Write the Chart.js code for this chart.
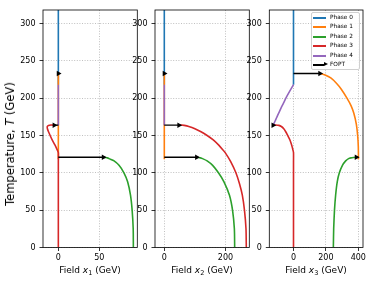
<!DOCTYPE html>
<html>
<head>
<meta charset="utf-8">
<script src="https://cdn.jsdelivr.net/npm/chart.js@4.4.1/dist/chart.umd.min.js"></script>
<style>
  body { margin: 0; background: #fff; font-family: "DejaVu Sans", sans-serif; }
  #fig { position: relative; width: 374px; height: 282px; overflow: hidden; background: #fff; }
  #fig canvas { position: absolute; top: 0; }
  .lbl { position: absolute; font-size: 9px; color: #000; white-space: nowrap; transform: translate(-50%, -50%); }
  .lbl sub { font-size: 6.5px; vertical-align: -2px; line-height: 0; }
  #ylab { font-size: 11.5px; transform: translate(-50%, -50%) rotate(-90deg); }
  #legend { position: absolute; left: 311px; top: 12px; width: 49px; height: 58px; box-sizing: border-box;
            border: 1px solid #d0d0d0; border-radius: 2px; background: rgba(255,255,255,0.85); }
  .row { position: absolute; left: 0; height: 9px; width: 100%; }
  .row .h { position: absolute; left: 1px; top: 4px; width: 13px; height: 1.5px; }
  .row .t { position: absolute; left: 18px; top: 0; font-size: 5.8px; line-height: 9px; color: #000; }
  .row .tri { position: absolute; left: 11.5px; top: 2.2px; width: 0; height: 0;
              border-top: 2.6px solid transparent; border-bottom: 2.6px solid transparent; border-left: 4.5px solid #000; }
</style>
</head>
<body>
<div id="fig">
  <canvas id="c1" style="left:0px" width="140" height="282"></canvas>
  <canvas id="c2" style="left:125px" width="127" height="282"></canvas>
  <canvas id="c3" style="left:240px" width="134" height="282"></canvas>
  <div class="lbl" id="ylab" style="left:10px; top:144px;">Temperature, <i>T</i> (GeV)</div>
  <div class="lbl" style="left:90px; top:270px;">Field <i>x</i><sub>1</sub> (GeV)</div>
  <div class="lbl" style="left:202px; top:270px;">Field <i>x</i><sub>2</sub> (GeV)</div>
  <div class="lbl" style="left:316px; top:270px;">Field <i>x</i><sub>3</sub> (GeV)</div>
  <div id="legend"></div>
</div>
<script>
// axis ticks
const yTicks = [0, 50, 100, 150, 200, 250, 300];
const x1Ticks = [0, 50];
const x2Ticks = [0, 200];
const x3Ticks = [0, 200, 400];

const phaseNames = ["Phase 0", "Phase 1", "Phase 2", "Phase 3", "Phase 4"];
const phaseColors = ["#1f77b4", "#ff7f0e", "#2ca02c", "#d62728", "#9467bd"];

// phase 0
const phase0T = [218, 318];
const phase0X1 = [0, 0];
const phase0X2 = [0, 0];
const phase0X3 = [0, 0];

// phase 1
const phase1T = [233, 231, 227, 220, 212, 200, 190, 180, 165, 150, 135, 118];
const phase1X1 = [0, 0, 0, 0, 0, 0, 0, 0, 0, 0, 0, 0];
const phase1X2 = [0, 0, 0, 0, 0, 0, 0, 0, 0, 0, 0, 0];
const phase1X3 = [163, 195, 230, 265, 295, 330, 355, 372, 388, 396, 400, 401];

// phase 2
const phase2T = [120.8, 120.5, 120, 119, 116, 110, 100, 88, 70, 50, 25, 0];
const phase2X1 = [55, 57, 60, 62, 68, 74, 80, 84.5, 88, 90, 91.3, 91.5];
const phase2X2 = [106, 112, 118, 125, 140, 158, 177, 195, 213, 223, 229, 230];
const phase2X3 = [388, 370, 355, 340, 322, 302, 283, 270, 260, 253, 248, 246];

// phase 3
const phase3T = [0, 25, 50, 70, 85, 100, 115, 127, 131, 137, 144, 150, 155, 159, 162, 163.5, 164, 163.8];
const phase3X1 = [0, 0, 0, 0, 0, 0, 0, 0, -1.5, -4, -7.5, -10, -12, -13.3, -13.5, -12, -9, -5];
const phase3X2 = [268, 267, 262, 255, 246, 234, 217, 199, 191, 178, 160, 140, 120, 100, 80, 65, 56, 48];
const phase3X3 = [0, 0, 0, 0, 0, 0, 0, 0, -4, -11, -22, -36, -48, -60, -75, -90, -110, -126];

// phase 4
const phase4T = [163.8, 170, 176, 182, 188.5, 195, 200, 206, 212, 218];
const phase4X1 = [0, 0, 0, 0, 0, 0, 0, 0, 0, 0];
const phase4X2 = [0, 0, 0, 0, 0, 0, 0, 0, 0, 0];
const phase4X3 = [-126, -112, -100, -87, -73, -58, -47, -32, -16, 0];

// first-order transitions (from high-T phase to low-T phase)
const foptT = [233, 163.8, 120.8];
const foptFromX1 = [0, 0, 0];
const foptToX1 = [0, -5, 55];
const foptFromX2 = [0, 0, 0];
const foptToX2 = [0, 48, 106];
const foptFromX3 = [0, -126, 400];
const foptToX3 = [163, -126, 388];

const phases = [
  { T: phase0T, x: [phase0X1, phase0X2, phase0X3] },
  { T: phase1T, x: [phase1X1, phase1X2, phase1X3] },
  { T: phase2T, x: [phase2X1, phase2X2, phase2X3] },
  { T: phase3T, x: [phase3X1, phase3X2, phase3X3] },
  { T: phase4T, x: [phase4X1, phase4X2, phase4X3] }
];
const foptFrom = [foptFromX1, foptFromX2, foptFromX3];
const foptTo = [foptToX1, foptToX2, foptToX3];

// box round the plot area like matplotlib spines
const frame = {
  id: "frame",
  afterDraw(chart) {
    const { ctx, chartArea: a } = chart;
    ctx.save();
    ctx.strokeStyle = "#000";
    ctx.lineWidth = 0.8;
    ctx.strokeRect(a.left, a.top, a.right - a.left, a.bottom - a.top);
    ctx.restore();
  }
};

const tickFont = { family: "DejaVu Sans", size: 8 };
const gridStyle = {
  color: "#b0b0b0", lineWidth: 0.8,
  tickColor: "#000", tickWidth: 0.8, tickLength: 3.5, tickBorderDash: []
};
// in v4 the grid line dash lives under border
const borderStyle = { display: false, dash: [1, 1.6] };

function makePanel(id, k, xMin, xMax, xTicks, yWidth, rightPad) {
  const datasets = [];
  let n = 0;
  phases.forEach((p, i) => {
    datasets.push({
      data: p.T.map((t, j) => ({ x: p.x[k][j], y: t })),
      borderColor: phaseColors[i],
      borderWidth: 1.6,
      pointRadius: 0,
      showLine: true,
      tension: 0.2,
      order: 100 - n++
    });
  });
  foptT.forEach((t, i) => {
    datasets.push({
      data: [{ x: foptFrom[k][i], y: t }, { x: foptTo[k][i], y: t }],
      borderColor: "#000",
      borderWidth: 1.4,
      pointStyle: "triangle",
      rotation: 90,
      pointRadius: [0, 3.2],
      pointBackgroundColor: "#000",
      pointBorderWidth: 0,
      showLine: true,
      order: 100 - n++
    });
  });

  new Chart(document.getElementById(id), {
    type: "scatter",
    data: { datasets },
    options: {
      responsive: false,
      animation: false,
      layout: { autoPadding: false, padding: { top: 10, right: rightPad, bottom: 19.5, left: 0 } },
      plugins: { legend: { display: false }, tooltip: { enabled: false } },
      scales: {
        x: {
          type: "linear", min: xMin, max: xMax,
          afterBuildTicks: s => { s.ticks = xTicks.map(v => ({ value: v })); },
          afterFit: s => { s.height = 15; },
          ticks: { font: tickFont, color: "#000", padding: 2, maxRotation: 0 },
          grid: gridStyle,
          border: borderStyle
        },
        y: {
          type: "linear", min: 0, max: 318,
          afterBuildTicks: s => { s.ticks = yTicks.map(v => ({ value: v })); },
          afterFit: s => { s.width = yWidth; },
          ticks: { font: tickFont, color: "#000", padding: 4 },
          grid: gridStyle,
          border: borderStyle
        }
      }
    },
    plugins: [frame]
  });
}

makePanel("c1", 0, -18.7, 96.3, x1Ticks, 43, 2.7);
makePanel("c2", 1, -30.4, 277.8, x2Ticks, 30, 2.7);
makePanel("c3", 2, -149.4, 429, x3Ticks, 29.3, 11);

// legend inside the third panel
const legend = document.getElementById("legend");
phaseNames.forEach((name, i) => {
  const row = document.createElement("div");
  row.className = "row";
  row.style.top = Math.round(i * 9.4) + "px";
  row.innerHTML = '<div class="h" style="background:' + phaseColors[i] + '"></div><div class="t">' + name + '</div>';
  legend.appendChild(row);
});
const fRow = document.createElement("div");
fRow.className = "row";
fRow.style.top = Math.round(5 * 9.4) + "px";
fRow.innerHTML = '<div class="h" style="background:#000; width:11px"></div><div class="tri"></div><div class="t">FOPT</div>';
legend.appendChild(fRow);
</script>
</body>
</html>
